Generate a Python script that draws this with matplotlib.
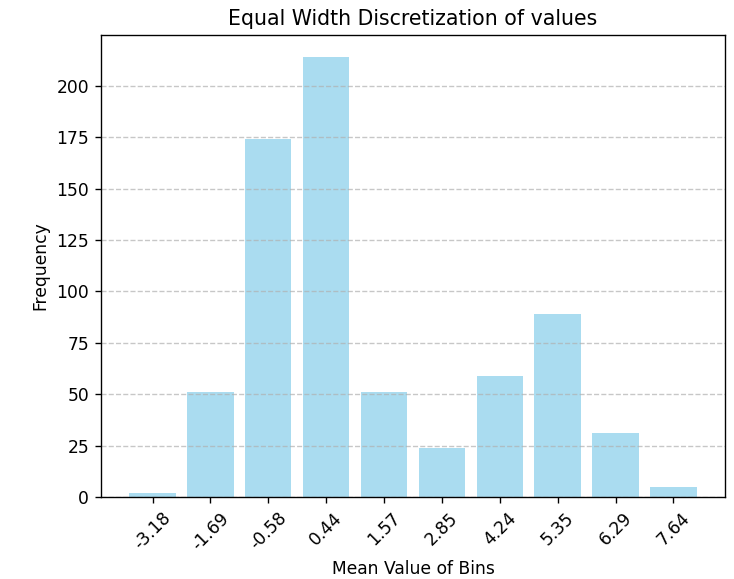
import numpy as np
import matplotlib.pyplot as plt

bin_means = ['-3.18', '-1.69', '-0.58', '0.44', '1.57', '2.85', '4.24', '5.35', '6.29', '7.64']
counts = [2, 51, 174, 214, 51, 24, 59, 89, 31, 5]

dpi = 123
fig = plt.figure(figsize=(734 / dpi, 579 / dpi), dpi=dpi)
ax = fig.add_axes([0.1376, 0.1416, 0.85, 0.798])

ax.bar(bin_means, counts, color='skyblue', alpha=0.7)
ax.set_title('Equal Width Discretization of values')
ax.set_xlabel('Mean Value of Bins')
ax.set_ylabel('Frequency')
plt.setp(ax.get_xticklabels(), rotation=45)
ax.grid(axis='y', linestyle='--', alpha=0.7)

fig.savefig('out.png', dpi=dpi)
